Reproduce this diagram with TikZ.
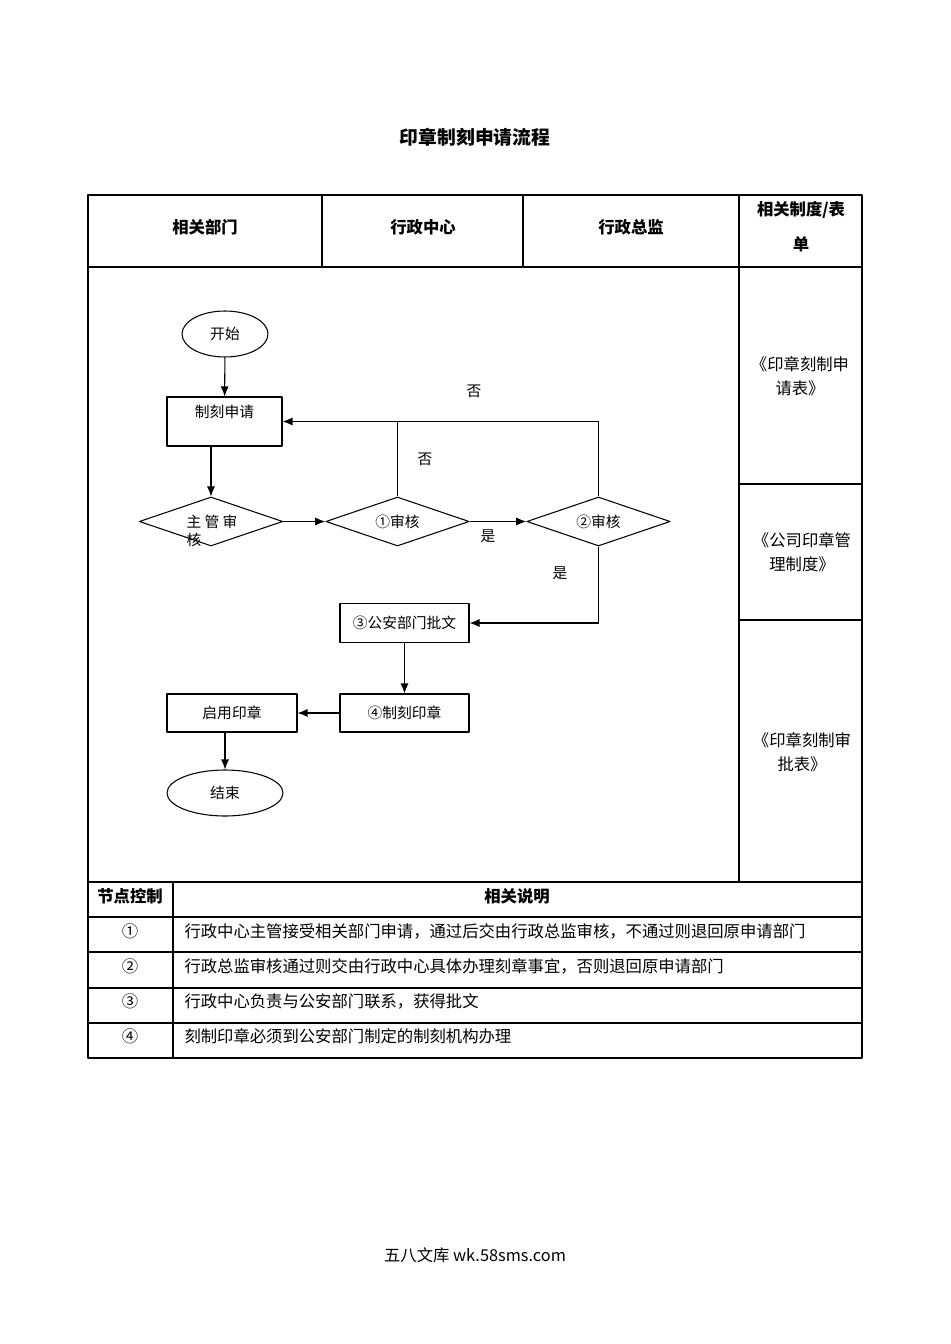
\documentclass[tikz,border=0pt]{standalone}
\usepackage{fontspec}
\setmainfont{Noto Sans CJK SC}
\usetikzlibrary{shapes.geometric,positioning,arrows.meta}
\begin{document}
\begin{tikzpicture}[x=0.02cm,y=-0.02cm,line join=round,>={Latex[length=2mm,width=1.6mm]},line width=0.6pt,
  font=\fontsize{9.3}{13.6}\selectfont,
  head/.style={font=\bfseries\fontsize{9.3}{13.6}\selectfont},
  flow/.style={font=\fontsize{8.4}{10}\selectfont},
  box/.style={draw,rectangle,flow,inner sep=0pt},
  oval/.style={draw,ellipse,flow,inner sep=0pt},
  judge/.style={draw,diamond,flow,inner sep=0pt,aspect=2.9,minimum width=2.87cm,minimum height=0.98cm}]
\useasboundingbox[fill=white] (0,0) rectangle (950,1344);
% title
\node[font=\bfseries\fontsize{10.7}{12}\selectfont] (title) at (475,137) {印章制刻申请流程};
% table frame
\draw (88,195) rectangle (862,1058);
\draw (88,267) -- (862,267);
\foreach \cx in {322,523} \draw (\cx,195) -- (\cx,267);
\draw (739,195) -- (739,882);
\draw (739,484) -- (862,484) (739,620) -- (862,620);
\foreach \ry in {882,917,952,988,1023} \draw (88,\ry) -- (862,\ry);
\draw (173,882) -- (173,1058);
% header
\node[head] (dept) at (205,227) {相关部门};
\node[head] (center) at (423,227) {行政中心};
\node[head] (chief) at (631,227) {行政总监};
\node[head,align=center,font=\bfseries\fontsize{9.3}{20}\selectfont] (forms) at (801,227) {相关制度/表\\单};
\node[align=center] (form1) at (800,376) {《印章刻制申\\请表》};
\node[align=center] (form2) at (802,552) {《公司印章管\\理制度》};
\node[align=center] (form3) at (802,752) {《印章刻制审\\批表》};
% flow chart
\node[oval,minimum width=1.72cm,minimum height=0.92cm] (start) at (225,334) {开始};
\node[box,minimum width=2.3cm,minimum height=0.98cm,text depth=0.42cm] (apply) at (224.5,421.5) {制刻申请};
\node[judge] (zg) at (211,521.5) {};
\node[flow,align=left] (zgtext) at (212,531) {主 管 审\\核};
\node[judge] (d1) at (397.5,521.5) {①审核};
\node[judge] (d2) at (598.5,521.5) {②审核};
\node[box,minimum width=2.58cm,minimum height=0.78cm] (police) at (404.5,623) {③公安部门批文};
\node[box,minimum width=2.58cm,minimum height=0.76cm] (carve) at (404.5,713) {④制刻印章};
\node[box,minimum width=2.6cm,minimum height=0.76cm] (use) at (232,713) {启用印章};
\node[oval,minimum width=2.32cm,minimum height=0.92cm] (end) at (225,793) {结束};
\draw[->] (start) -- (apply);
\draw[->] (apply.south -| zg) -- (zg.north);
\draw[->] (zg.east) -- (d1.west);
\draw[->] (d1.east) -- (d2.west);
\draw[->] (d1.north) |- (apply.east);
\draw (d2.north) |- (d1.north |- apply.east);
\draw[->] (d2.south) |- (police.east);
\draw[->] (police) -- (carve);
\draw[->] (carve) -- (use);
\draw[->] (use.south -| end) -- (end);
\path[flow]
(425,459) node (no1) {否}
(474,391) node (no2) {否}
(488,536) node (yes1) {是}
(560,573) node (yes2) {是};
% notes
\node[head] (ctrl) at (130,896) {节点控制};
\node[head] (desc) at (517,896) {相关说明};
\foreach \n/\ny/\txt in {①/931/行政中心主管接受相关部门申请，通过后交由行政总监审核，不通过则退回原申请部门,
  ②/966/行政总监审核通过则交由行政中心具体办理刻章事宜，否则退回原申请部门,
  ③/1001/行政中心负责与公安部门联系，获得批文,
  ④/1036/刻制印章必须到公安部门制定的制刻机构办理}{
  \node (num\ny) at (130,\ny) {\n};
  \node[anchor=west,inner sep=0pt] (txt\ny) at (184,\ny) {\txt};
}
\node (foot) at (475,1255) {五八文库 wk.58sms.com};
\end{tikzpicture}
\end{document}
